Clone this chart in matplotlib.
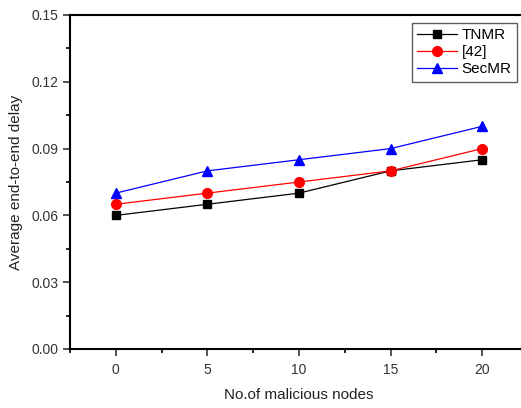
import numpy as np
import matplotlib.pyplot as plt
from matplotlib.ticker import MultipleLocator

plt.rcParams['font.family'] = ['Liberation Sans', 'DejaVu Sans']

# data
nodes = [0, 5, 10, 15, 20]
tnmr = [0.060, 0.065, 0.070, 0.080, 0.085]
ref42 = [0.065, 0.070, 0.075, 0.080, 0.090]
secmr = [0.070, 0.080, 0.085, 0.090, 0.100]

W, H = 521, 408
fig = plt.figure(figsize=(W / 100, H / 100), dpi=100)
# axes runs past the right edge of the picture, as in the reference
ax = fig.add_axes([70 / W, 1 - 349 / H, (528 - 70) / W, (349 - 15) / H])

ax.plot(nodes, tnmr, color='black', marker='s', markersize=6, linewidth=0.9, label='TNMR')
ax.plot(nodes, ref42, color='red', marker='o', markersize=7, linewidth=0.9, label='[42]')
ax.plot(nodes, secmr, color='blue', marker='^', markersize=7, linewidth=0.9, label='SecMR')

ax.set_xlim(-2.5, 22.5)
ax.set_ylim(0, 0.15)
ax.xaxis.set_major_locator(MultipleLocator(5))
ax.xaxis.set_minor_locator(MultipleLocator(2.5))
ax.yaxis.set_major_locator(MultipleLocator(0.03))
ax.yaxis.set_minor_locator(MultipleLocator(0.015))
ax.yaxis.set_major_formatter(plt.FormatStrFormatter('%.2f'))

for s in ax.spines.values():
    s.set_linewidth(1.5)
ax.spines['right'].set_visible(False)
ax.tick_params(which='major', direction='out', length=5, width=1.2, labelsize=10, colors='#333333')
ax.tick_params(which='minor', direction='out', length=3, width=1.2)
ax.tick_params(axis='x', pad=5)

ax.set_xlabel('No.of malicious nodes', fontsize=11, color='#222222', labelpad=8)
ax.set_ylabel('Average end-to-end delay', fontsize=11, color='#222222', labelpad=6)

leg = ax.legend(loc='upper left', bbox_to_anchor=((412 - 70) / (528 - 70), 1 - (23 - 15) / (349 - 15)),
                fontsize=11, frameon=True, fancybox=False, borderpad=0.35,
                handlelength=2.6, handletextpad=0.3, labelspacing=0.2, borderaxespad=0)
leg.get_frame().set_edgecolor('#333333')
leg.get_frame().set_linewidth(1.0)

fig.savefig('out.png', dpi=100)
